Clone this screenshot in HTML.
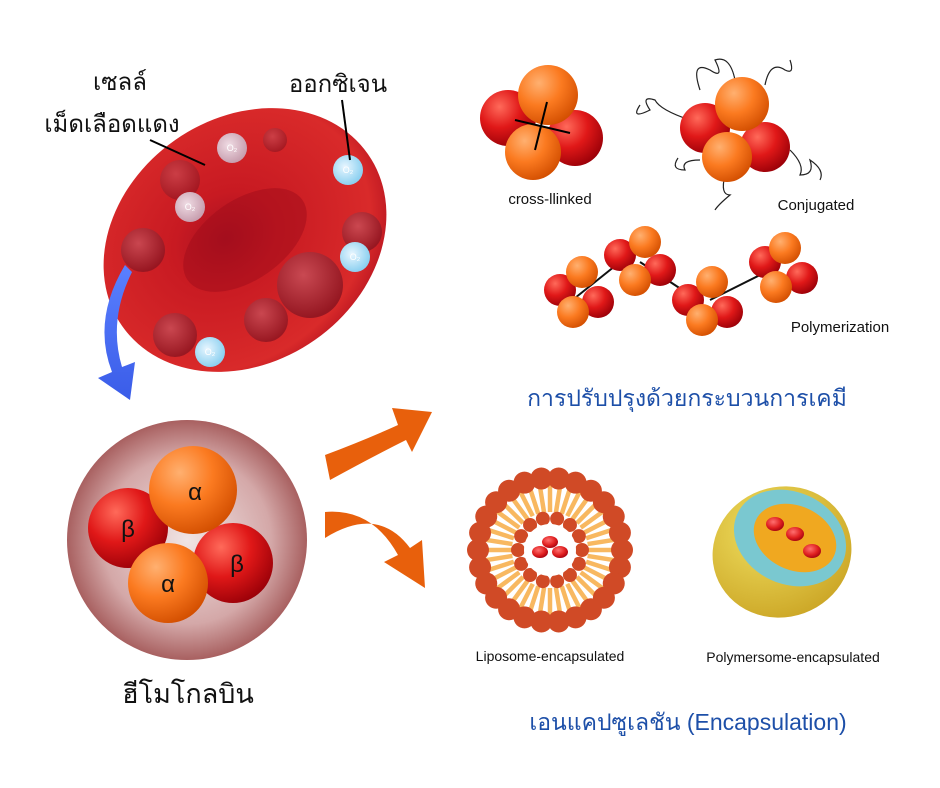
<!DOCTYPE html>
<html><head><meta charset="utf-8"><style>
body{margin:0;background:#fff;}
svg{display:block}
text{font-family:"Liberation Sans","Noto Sans CJK SC",sans-serif}
.th{font-family:"Liberation Sans","Noto Sans CJK SC","WenQuanYi Zen Hei",sans-serif}
</style></head><body>
<svg id="s" width="940" height="788" viewBox="0 0 940 788" xmlns="http://www.w3.org/2000/svg">
<defs>
<radialGradient id="rbc" cx="0.45" cy="0.45" r="0.6">
<stop offset="0" stop-color="#a81020"/><stop offset="0.3" stop-color="#c81a22"/><stop offset="0.85" stop-color="#d92a2a"/><stop offset="1" stop-color="#b81420"/></radialGradient>
<radialGradient id="red" cx="0.35" cy="0.3" r="0.75"><stop offset="0" stop-color="#ff6a5a"/><stop offset="0.5" stop-color="#e01818"/><stop offset="1" stop-color="#9a0008"/></radialGradient>
<radialGradient id="org" cx="0.35" cy="0.3" r="0.75"><stop offset="0" stop-color="#ffb070"/><stop offset="0.5" stop-color="#fb7a20"/><stop offset="1" stop-color="#d24e00"/></radialGradient>
<radialGradient id="hb" cx="0.5" cy="0.5" r="0.5"><stop offset="0" stop-color="#f0e4e4"/><stop offset="0.7" stop-color="#d4a8a8"/><stop offset="1" stop-color="#a86060"/></radialGradient>
<radialGradient id="bub" cx="0.4" cy="0.35" r="0.65"><stop offset="0" stop-color="#c8505a"/><stop offset="1" stop-color="#8a1420"/></radialGradient>
<radialGradient id="o2" cx="0.4" cy="0.4" r="0.6"><stop offset="0" stop-color="#e8f6ff"/><stop offset="1" stop-color="#8cd0f0"/></radialGradient>
<radialGradient id="o2p" cx="0.4" cy="0.4" r="0.6"><stop offset="0" stop-color="#f0dce4"/><stop offset="1" stop-color="#c8a0b0"/></radialGradient>
<radialGradient id="cell" cx="0.4" cy="0.35" r="0.7"><stop offset="0" stop-color="#ff7070"/><stop offset="0.6" stop-color="#e02020"/><stop offset="1" stop-color="#a00010"/></radialGradient>
<radialGradient id="yel" cx="0.45" cy="0.3" r="0.8"><stop offset="0" stop-color="#f0e060"/><stop offset="1" stop-color="#c8a020"/></radialGradient>
<linearGradient id="blu" x1="0" y1="0" x2="0" y2="1"><stop offset="0" stop-color="#5a80ff"/><stop offset="1" stop-color="#3a5ce8"/></linearGradient>
</defs>

<g transform="rotate(-35 245 240)">
<ellipse cx="245" cy="240" rx="150" ry="122" fill="url(#rbc)"/>
<ellipse cx="245" cy="240" rx="70" ry="40" fill="#a00c1a" opacity="0.5"/>
</g>
<circle cx="310" cy="285" r="33" fill="url(#bub)" opacity="0.85"/>
<circle cx="266" cy="320" r="22" fill="url(#bub)" opacity="0.8"/>
<circle cx="143" cy="250" r="22" fill="url(#bub)" opacity="0.8"/>
<circle cx="175" cy="335" r="22" fill="url(#bub)" opacity="0.8"/>
<circle cx="362" cy="232" r="20" fill="url(#bub)" opacity="0.8"/>
<circle cx="180" cy="180" r="20" fill="url(#bub)" opacity="0.6"/>
<circle cx="275" cy="140" r="12" fill="url(#bub)" opacity="0.6"/>
<circle cx="232" cy="148" r="15" fill="url(#o2p)"/><circle cx="190" cy="207" r="15" fill="url(#o2p)"/>
<circle cx="348" cy="170" r="15" fill="url(#o2)"/><circle cx="355" cy="257" r="15" fill="url(#o2)"/><circle cx="210" cy="352" r="15" fill="url(#o2)"/>
<g font-size="9" fill="#fff" text-anchor="middle"><text x="232" y="151">O₂</text><text x="190" y="210">O₂</text><text x="348" y="173">O₂</text><text x="355" y="260">O₂</text><text x="210" y="355">O₂</text></g>

<text class="th" x="120" y="90" font-size="24" text-anchor="middle" fill="#111">เซลล์</text>
<text class="th" x="112" y="132" font-size="24" text-anchor="middle" fill="#111">เม็ดเลือดแดง</text>
<line x1="150" y1="140" x2="205" y2="165" stroke="#000" stroke-width="2"/>
<text class="th" x="338" y="92" font-size="24" text-anchor="middle" fill="#111">ออกซิเจน</text>
<line x1="342" y1="100" x2="350" y2="160" stroke="#000" stroke-width="2"/>

<path d="M125 265 Q92 320 112 372 L98 378 L130 400 L135 362 L122 367 Q108 320 132 272 Z" fill="url(#blu)"/>

<circle cx="187" cy="540" r="120" fill="url(#hb)"/>
<circle cx="128" cy="528" r="40" fill="url(#red)"/>
<circle cx="233" cy="563" r="40" fill="url(#red)"/>
<circle cx="193" cy="490" r="44" fill="url(#org)"/>
<circle cx="168" cy="583" r="40" fill="url(#org)"/>
<g font-size="24" fill="#111" text-anchor="middle"><text x="128" y="537">β</text><text x="237" y="572">β</text><text x="195" y="500">α</text><text x="168" y="592">α</text></g>
<text class="th" x="188" y="703" font-size="27" text-anchor="middle" fill="#111">ฮีโมโกลบิน</text>

<!-- orange arrows -->
<path d="M325 455 Q365 440 398 425 L392 408 L432 412 L412 452 L406 440 Q370 458 330 480 Z" fill="#e8600c"/>
<path d="M325 512 Q372 508 398 555 L384 562 L425 588 L422 540 L410 548 Q378 505 325 538 Z" fill="#e8600c"/>

<circle cx="508" cy="118" r="28" fill="url(#red)"/>
<circle cx="575" cy="138" r="28" fill="url(#red)"/>
<circle cx="548" cy="95" r="30" fill="url(#org)"/>
<circle cx="533" cy="152" r="28" fill="url(#org)"/>
<line x1="547" y1="102" x2="535" y2="150" stroke="#000" stroke-width="2"/>
<line x1="515" y1="120" x2="570" y2="133" stroke="#000" stroke-width="2"/>
<text x="550" y="204" font-size="15" text-anchor="middle" fill="#111">cross-llinked</text>

<g fill="none" stroke="#222" stroke-width="1.2">
<path d="M700 90 Q690 60 710 70 Q725 80 715 60 Q730 55 735 80"/>
<path d="M765 85 Q770 60 785 70 Q795 75 790 60"/>
<path d="M690 120 Q660 110 655 100 Q640 95 650 110 Q630 120 640 105"/>
<path d="M790 150 Q805 165 800 175 Q815 175 810 160 Q825 170 820 180"/>
<path d="M700 160 Q680 160 685 170 Q670 170 678 158"/>
<path d="M725 175 Q720 195 730 195 Q718 205 715 210"/>
</g>
<circle cx="705" cy="128" r="25" fill="url(#red)"/>
<circle cx="765" cy="147" r="25" fill="url(#red)"/>
<circle cx="742" cy="104" r="27" fill="url(#org)"/>
<circle cx="727" cy="157" r="25" fill="url(#org)"/>
<text x="816" y="210" font-size="15" text-anchor="middle" fill="#111">Conjugated</text>

<g stroke="#111" stroke-width="2"><line x1="575" y1="298" x2="620" y2="262"/><line x1="640" y1="262" x2="690" y2="295"/><line x1="710" y1="300" x2="770" y2="270"/></g>
<g id="poly"></g>
<text x="840" y="332" font-size="15" text-anchor="middle" fill="#111">Polymerization</text>

<text class="th" x="687" y="406" font-size="23" text-anchor="middle" fill="#1d4fa8">การปรับปรุงด้วยกระบวนการเคมี</text>

<g id="lipo"></g>
<g id="poly2">
<ellipse cx="782" cy="552" rx="70" ry="65" fill="url(#yel)" transform="rotate(-20 782 552)"/>
<ellipse cx="790" cy="538" rx="58" ry="46" fill="#7ac8d0" transform="rotate(25 790 538)"/>
<ellipse cx="795" cy="538" rx="43" ry="32" fill="#f0a820" transform="rotate(25 795 538)"/>
<ellipse cx="775" cy="524" rx="9" ry="7" fill="url(#cell)"/>
<ellipse cx="795" cy="534" rx="9" ry="7" fill="url(#cell)"/>
<ellipse cx="812" cy="551" rx="9" ry="7" fill="url(#cell)"/>
</g>
<text x="550" y="661" font-size="14" text-anchor="middle" fill="#111">Liposome-encapsulated</text>
<text x="793" y="662" font-size="14" text-anchor="middle" fill="#111">Polymersome-encapsulated</text>
<text class="th" x="688" y="730" font-size="23" text-anchor="middle" fill="#1d4fa8">เอนแคปซูเลชัน (Encapsulation)</text>
</svg>
<script>
var NS="http://www.w3.org/2000/svg";
function c(g,x,y,r,f){var e=document.createElementNS(NS,"circle");e.setAttribute("cx",x);e.setAttribute("cy",y);e.setAttribute("r",r);e.setAttribute("fill",f);document.getElementById(g).appendChild(e);}
function l(g,x1,y1,x2,y2,s,w){var e=document.createElementNS(NS,"line");e.setAttribute("x1",x1);e.setAttribute("y1",y1);e.setAttribute("x2",x2);e.setAttribute("y2",y2);e.setAttribute("stroke",s);e.setAttribute("stroke-width",w);document.getElementById(g).appendChild(e);}
var P=[[560,290,"red"],[598,302,"red"],[573,312,"org"],[582,272,"org"],
[620,255,"red"],[660,270,"red"],[635,280,"org"],[645,242,"org"],
[688,300,"red"],[727,312,"red"],[702,320,"org"],[712,282,"org"],
[765,262,"red"],[802,278,"red"],[776,287,"org"],[785,248,"org"]];
P.forEach(function(p){c("poly",p[0],p[1],16,"url(#"+p[2]+")");});
var cx=550,cy=550;
for(var i=0;i<40;i++){var a=i/40*Math.PI*2;l("lipo",cx+Math.cos(a)*38,cy+Math.sin(a)*38,cx+Math.cos(a)*66,cy+Math.sin(a)*66,"#f8b860",4.5);}
for(var i=0;i<26;i++){var a=i/26*Math.PI*2;c("lipo",cx+Math.cos(a)*72,cy+Math.sin(a)*72,11,"#d04a26");}
for(var i=0;i<14;i++){var a=i/14*Math.PI*2;c("lipo",cx+Math.cos(a)*32,cy+Math.sin(a)*32,7,"#d04a26");}
c("lipo",cx,cy,26,"#fff");
[[550,542],[540,552],[560,552]].forEach(function(p){var e=document.createElementNS(NS,"ellipse");e.setAttribute("cx",p[0]);e.setAttribute("cy",p[1]);e.setAttribute("rx",8);e.setAttribute("ry",6);e.setAttribute("fill","url(#cell)");document.getElementById("lipo").appendChild(e);});
</script>
</body></html>
